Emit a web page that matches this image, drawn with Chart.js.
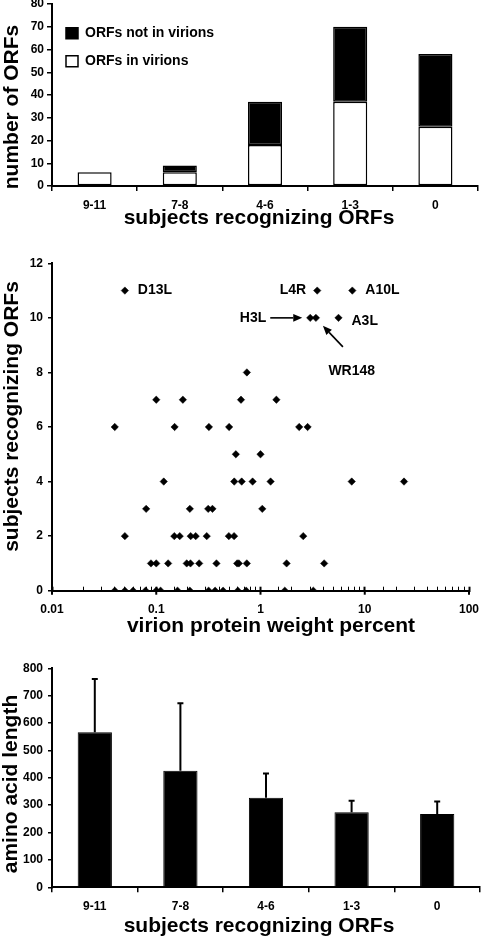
<!DOCTYPE html>
<html><head><meta charset="utf-8">
<script src="https://cdn.jsdelivr.net/npm/chart.js@4"></script>
<style>
html,body{margin:0;padding:0;background:#fff;}
body{width:482px;height:946px;position:relative;overflow:hidden;}
canvas{position:absolute;left:0;}
</style></head><body>
<canvas id="c1" width="482" height="248" style="top:-8px;width:482px;height:248px"></canvas>
<canvas id="c2" width="482" height="400" style="top:240px;width:482px;height:400px"></canvas>
<canvas id="c3" width="482" height="306" style="top:640px;width:482px;height:306px"></canvas>
<script>
// ---------- data ----------
const groupLabels = ['9-11', '7-8', '4-6', '1-3', '0'];
const orfsInVirions = [6, 6, 18, 37, 26];
const orfsNotInVirions = [0, 3, 19, 33, 32];

// scatter: first six points are the named ORFs
const namedOrfs = ['D13L', 'L4R', 'A10L', 'H3L', 'WR148', 'A3L'];
const virionWeightPercent = [
  0.05, 3.5, 7.6, 3.0, 3.4, 5.6,
  0.74,
  0.10, 0.18, 0.65, 1.42,
  0.04, 0.15, 0.32, 0.50, 2.35, 2.83,
  0.58, 1.0,
  0.118, 0.56, 0.66, 0.84, 1.25, 7.5, 23.8,
  0.08, 0.21, 0.315, 0.346, 1.04,
  0.05, 0.149, 0.168, 0.214, 0.239, 0.305, 0.497, 0.558, 2.57,
  0.089, 0.10, 0.13, 0.196, 0.213, 0.258, 0.378, 0.597, 0.62, 0.739, 1.78, 4.08,
  0.04, 0.05, 0.06, 0.079, 0.10, 0.11, 0.16, 0.21, 0.318, 0.367, 0.438, 0.606, 0.729, 1.71, 3.21
];
const subjectsRecognizing = [
  11, 11, 11, 10, 10, 10,
  8,
  7, 7, 7, 7,
  6, 6, 6, 6, 6, 6,
  5, 5,
  4, 4, 4, 4, 4, 4, 4,
  3, 3, 3, 3, 3,
  2, 2, 2, 2, 2, 2, 2, 2, 2,
  1, 1, 1, 1, 1, 1, 1, 1, 1, 1, 1, 1,
  0, 0, 0, 0, 0, 0, 0, 0, 0, 0, 0, 0, 0, 0, 0
];
const logTickLabels = ['0.01', '0.1', '1', '10', '100'];

const meanLength = [566, 426, 327, 274, 268];
const sdLength = [195, 246, 89, 42, 45];

// ---------- styling ----------
const FONT = "'Liberation Sans', Arial, sans-serif";
Chart.defaults.font.family = FONT;
Chart.defaults.font.weight = 'bold';
Chart.defaults.font.size = 12;
Chart.defaults.color = '#000';

const axisTitles = {
  id: 'axisTitles',
  afterDraw(chart, args, opts) {
    const ctx = chart.ctx;
    ctx.save();
    ctx.fillStyle = '#000';
    ctx.font = 'bold 21px ' + FONT;
    ctx.textAlign = 'center';
    ctx.textBaseline = 'middle';
    (opts.items || []).forEach(it => {
      ctx.save();
      ctx.translate(it.x, it.y);
      if (it.rotate) ctx.rotate(-Math.PI / 2);
      ctx.fillText(it.text, 0, 0);
      ctx.restore();
    });
    ctx.restore();
  }
};

function arrow(ctx, x1, y1, x2, y2) {
  const a = Math.atan2(y2 - y1, x2 - x1);
  const L = 9, W = 3.8;
  const bx = x2 - L * Math.cos(a), by = y2 - L * Math.sin(a);
  ctx.beginPath(); ctx.moveTo(x1, y1); ctx.lineTo(bx, by); ctx.stroke();
  ctx.beginPath();
  ctx.moveTo(x2, y2);
  ctx.lineTo(bx + W * Math.sin(a), by - W * Math.cos(a));
  ctx.lineTo(bx - W * Math.sin(a), by + W * Math.cos(a));
  ctx.closePath(); ctx.fill();
}

const labelStyle = {
  D13L: {dx: 13, dy: 0, align: 'left'},
  L4R: {dx: -11, dy: 0, align: 'right'},
  A10L: {dx: 13, dy: 0, align: 'left'},
  H3L: {dx: -44, dy: 0, align: 'right', arrow: [-40, 0, -8, 0]},
  WR148: {dx: 12.5, dy: 53.5, align: 'left', arrow: [27, 29, 7, 8]},
  A3L: {dx: 13, dy: 3, align: 'left'}
};

const pointLabels = {
  id: 'pointLabels',
  afterDatasetsDraw(chart) {
    const ctx = chart.ctx;
    const meta = chart.getDatasetMeta(0);
    ctx.save();
    ctx.fillStyle = '#000'; ctx.strokeStyle = '#000'; ctx.lineWidth = 1.6;
    ctx.font = 'bold 14px ' + FONT;
    ctx.textBaseline = 'middle';
    namedOrfs.forEach((name, i) => {
      const p = meta.data[i];
      const s = labelStyle[name];
      ctx.textAlign = s.align;
      ctx.fillText(name, p.x + s.dx, p.y + s.dy);
      if (s.arrow) arrow(ctx, p.x + s.arrow[0], p.y + s.arrow[1], p.x + s.arrow[2], p.y + s.arrow[3]);
    });
    // major (decade) ticks extend below the axis
    const xs = chart.scales.x;
    ctx.lineWidth = 2;
    logTickLabels.forEach(t => {
      const px = xs.getPixelForValue(parseFloat(t));
      ctx.beginPath(); ctx.moveTo(px, xs.top); ctx.lineTo(px, xs.top + 4); ctx.stroke();
    });
    ctx.restore();
  }
};

const errorBars = {
  id: 'errorBars',
  afterDatasetsDraw(chart) {
    const ctx = chart.ctx;
    const meta = chart.getDatasetMeta(0);
    const ys = chart.scales.y;
    ctx.save();
    ctx.strokeStyle = '#000'; ctx.lineWidth = 2;
    meta.data.forEach((bar, i) => {
      const yb = ys.getPixelForValue(meanLength[i]);
      const yt = ys.getPixelForValue(meanLength[i] + sdLength[i]);
      ctx.beginPath();
      ctx.moveTo(bar.x, yb); ctx.lineTo(bar.x, yt);
      ctx.moveTo(bar.x - 3, yt); ctx.lineTo(bar.x + 3, yt);
      ctx.stroke();
    });
    ctx.restore();
  }
};

const tickFont = {size: 12, weight: 'bold', family: FONT};
function catAxis(h) {
  return {
    grid: {display: true, drawOnChartArea: false, drawTicks: true, tickLength: 5, color: '#000', lineWidth: 1.5, offset: true},
    border: {display: true, color: '#000', width: 2},
    ticks: {color: '#000', padding: 7, font: tickFont, maxRotation: 0},
    afterFit(s) { s.height = h; }
  };
}
function valAxis(min, max, step, tl, pad) {
  return {
    min, max,
    grid: {display: true, drawOnChartArea: false, drawTicks: true, tickLength: tl, color: '#000', lineWidth: 1.5},
    border: {display: true, color: '#000', width: 2},
    ticks: {stepSize: step, color: '#000', padding: pad, font: tickFont},
    afterFit(s) { s.width = 52; }
  };
}

// ---------- panel 1 ----------
const y1 = valAxis(0, 80, 10, 5, 3); y1.stacked = true;
const x1 = catAxis(54); x1.stacked = true;
new Chart(document.getElementById('c1'), {
  type: 'bar',
  data: {
    labels: groupLabels,
    datasets: [
      {label: 'ORFs in virions', data: orfsInVirions, backgroundColor: '#fff', borderColor: '#000', borderWidth: 1.5, borderSkipped: false},
      {label: 'ORFs not in virions', data: orfsNotInVirions, backgroundColor: '#000', borderColor: '#000', borderWidth: 1.5, borderSkipped: false}
    ]
  },
  options: {
    responsive: false, animation: false, devicePixelRatio: 1,
    layout: {padding: {top: 12, right: 4, left: 0, bottom: 0}},
    datasets: {bar: {categoryPercentage: 1, barPercentage: 0.4}},
    plugins: {
      legend: {position: 'chartArea', align: 'start', reverse: true,
        title: {display: true, text: '', padding: {top: 19, bottom: 0}, font: {size: 1}},
        labels: {boxWidth: 12, boxHeight: 11, padding: 14, color: '#000', font: {size: 14, weight: 'bold', family: FONT}}},
      tooltip: {enabled: false},
      axisTitles: {items: [
        {text: 'number of ORFs', x: 12, y: 115, rotate: true},
        {text: 'subjects recognizing ORFs', x: 259, y: 226}
      ]}
    },
    scales: {x: x1, y: y1}
  },
  plugins: [axisTitles]
});

// ---------- panel 2 ----------
new Chart(document.getElementById('c2'), {
  type: 'scatter',
  data: {
    datasets: [{
      label: 'ORFs',
      data: virionWeightPercent.map((v, i) => ({x: v, y: subjectsRecognizing[i]})),
      pointStyle: 'rectRot', pointRadius: 3.7, backgroundColor: '#000', borderColor: '#000', borderWidth: 0.5
    }]
  },
  options: {
    responsive: false, animation: false, devicePixelRatio: 1,
    layout: {padding: {top: 23.3, right: 0, left: 0, bottom: 0}},
    plugins: {
      legend: {display: false}, tooltip: {enabled: false},
      axisTitles: {items: [
        {text: 'subjects recognizing ORFs', x: 12, y: 176.5, rotate: true},
        {text: 'virion protein weight percent', x: 271, y: 386.5}
      ]}
    },
    scales: {
      x: {
        type: 'logarithmic', min: 0.01, max: 100,
        grid: {display: true, drawOnChartArea: false, drawTicks: true, tickLength: -4, tickColor: '#000',
          tickWidth: c => { const e = Math.log10(c.tick.value); return Math.abs(e - Math.round(e)) < 1e-6 ? 2 : 1; }},
        border: {display: true, color: '#000', width: 2},
        ticks: {autoSkip: false, maxRotation: 0, padding: 16, color: '#000', font: tickFont,
          callback: v => { const e = Math.log10(v); const r = Math.round(e); return Math.abs(e - r) < 1e-6 ? logTickLabels[r + 2] : ''; }},
        afterFit(s) { s.height = 49.3; s.paddingRight = 13; s.paddingLeft = 13; }
      },
      y: valAxis(0, 12, 2, 4, 5)
    }
  },
  plugins: [axisTitles, pointLabels]
});

// ---------- panel 3 ----------
new Chart(document.getElementById('c3'), {
  type: 'bar',
  data: {
    labels: groupLabels,
    datasets: [{label: 'amino acid length', data: meanLength, backgroundColor: '#000', borderColor: '#000', borderWidth: 1}]
  },
  options: {
    responsive: false, animation: false, devicePixelRatio: 1,
    layout: {padding: {top: 28.3, right: 2, left: 0, bottom: 0}},
    datasets: {bar: {categoryPercentage: 1, barPercentage: 0.4}},
    plugins: {
      legend: {display: false}, tooltip: {enabled: false},
      axisTitles: {items: [
        {text: 'amino acid length', x: 11, y: 144, rotate: true},
        {text: 'subjects recognizing ORFs', x: 259, y: 286.5}
      ]}
    },
    scales: {x: catAxis(58.7), y: valAxis(0, 800, 100, 4, 5)}
  },
  plugins: [axisTitles, errorBars]
});
</script>
</body></html>
